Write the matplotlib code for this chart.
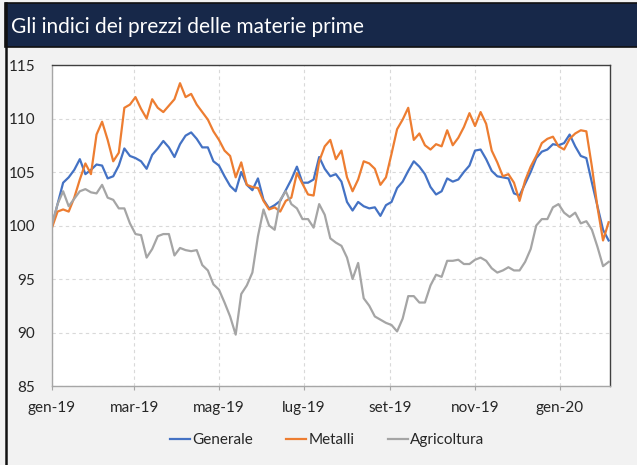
import matplotlib
matplotlib.use("Agg")
import matplotlib.pyplot as plt
import matplotlib.dates as mdates
from matplotlib.patches import Rectangle
from matplotlib.lines import Line2D
import numpy as np
import pandas as pd

plt.rcParams['font.family'] = ['Lato', 'DejaVu Sans']

title = "Gli indici dei prezzi delle materie prime"
series_names = ["Generale", "Metalli", "Agricoltura"]
start_date = "2019-01-01"
step_days = 4

generale = [100.0, 102.0, 104.0, 104.5, 105.2, 106.2, 104.8, 105.2, 105.7, 105.6,
            104.4, 104.6, 105.6, 107.2, 106.5, 106.3, 106.0, 105.3, 106.6, 107.2,
            107.9, 107.3, 106.4, 107.6, 108.4, 108.7, 108.1, 107.3, 107.3, 106.0,
            105.6, 104.6, 103.7, 103.2, 105.0, 103.8, 103.3, 104.4, 102.4, 101.6,
            101.9, 102.3, 103.3, 104.3, 105.5, 104.0, 104.0, 104.3, 106.4, 105.3,
            104.6, 104.8, 104.1, 102.2, 101.4, 102.2, 101.8, 101.6, 101.7, 100.9,
            101.9, 102.2, 103.5, 104.1, 105.1, 106.0, 105.5, 104.8, 103.6, 102.9,
            103.2, 104.4, 104.1, 104.3, 105.0, 105.6, 107.0, 107.1, 106.2, 105.1,
            104.6, 104.5, 104.4, 103.0, 102.8, 103.9, 105.0, 106.3, 106.9, 107.1,
            107.6, 107.5, 107.7, 108.5, 107.4, 106.5, 106.3, 104.0, 101.8, 99.6,
            98.6]
metalli = [99.8, 101.3, 101.5, 101.3, 102.6, 104.3, 105.8, 104.8, 108.5, 109.7,
           108.0, 106.0, 106.8, 111.0, 111.3, 112.0, 110.9, 110.0, 111.8, 111.0,
           110.6, 111.2, 111.8, 113.3, 112.0, 112.3, 111.3, 110.6, 109.9, 108.8,
           108.0, 107.0, 106.5, 104.5, 105.9, 103.8, 103.6, 103.5, 102.3, 101.5,
           101.7, 101.3, 102.3, 102.6, 104.9, 103.9, 102.9, 102.8, 106.0, 107.4,
           108.0, 106.2, 107.0, 104.5, 103.2, 104.3, 106.0, 105.8, 105.3, 103.8,
           104.5, 106.7, 109.0, 109.9, 111.0, 108.0, 108.6, 107.5, 107.1, 107.6,
           107.4, 108.9, 107.5, 108.2, 109.2, 110.5, 109.3, 110.6, 109.5, 107.0,
           105.9, 104.6, 104.8, 104.0, 102.3, 104.2, 105.5, 106.5, 107.7, 108.1,
           108.3, 107.4, 107.1, 108.1, 108.6, 108.9, 108.8, 105.5, 101.7, 98.6,
           100.3]
agricoltura = [100.1, 102.0, 103.2, 101.8, 102.5, 103.2, 103.4, 103.1, 103.0, 103.8,
               102.6, 102.4, 101.6, 101.6, 100.2, 99.2, 99.1, 97.0, 97.8, 99.0,
               99.2, 99.2, 97.2, 97.9, 97.7, 97.6, 97.7, 96.3, 95.8, 94.5,
               94.0, 92.8, 91.5, 89.8, 93.6, 94.4, 95.6, 99.0, 101.5, 100.0,
               99.6, 102.4, 103.2, 102.0, 101.6, 100.6, 100.6, 99.8, 102.0, 101.0,
               98.8, 98.4, 98.1, 97.0, 95.0, 96.5, 93.2, 92.5, 91.5, 91.2,
               90.9, 90.7, 90.1, 91.3, 93.4, 93.4, 92.8, 92.8, 94.4, 95.4,
               95.2, 96.7, 96.7, 96.8, 96.4, 96.4, 96.8, 97.0, 96.7, 96.0,
               95.6, 95.8, 96.1, 95.8, 95.8, 96.6, 97.8, 100.0, 100.6, 100.6,
               101.7, 102.0, 101.2, 100.8, 101.2, 100.2, 100.4, 99.6, 98.0, 96.2,
               96.6]

tick_dates = ["2019-01-01", "2019-03-01", "2019-05-01", "2019-07-01",
              "2019-09-01", "2019-11-01", "2020-01-01"]
tick_labels = ["gen-19", "mar-19", "mag-19", "lug-19", "set-19", "nov-19", "gen-20"]
y_ticks = [85, 90, 95, 100, 105, 110, 115]

dates = pd.date_range(start_date, periods=len(generale), freq=f"{step_days}D")

W, H = 637, 465
fig = plt.figure(figsize=(W / 100, H / 100), dpi=100)
fig.patch.set_facecolor("#f2f2f2")

# title bar
fig.patches.append(Rectangle((5 / W, 1 - 47 / H), 1, 44 / H, transform=fig.transFigure,
                             facecolor="#172849", edgecolor="#111111", linewidth=1.2, zorder=1))
fig.lines.append(Line2D([5.5 / W, 5.5 / W], [0, 1 - 3 / H], transform=fig.transFigure,
                        color="#111111", linewidth=1.8))
fig.text(11 / W, 1 - 27 / H, title, color="white", fontsize=15, fontweight="normal",
         va="center", ha="left")

ax = fig.add_axes([52 / W, 1 - 386 / H, (610 - 52) / W, (386 - 65) / H])
ax.set_facecolor("white")

colors = ["#4472C4", "#ED7D31", "#A5A5A5"]
for vals, name, c in zip([generale, metalli, agricoltura], series_names, colors):
    ax.plot(dates, vals, color=c, linewidth=1.6, label=name, solid_joinstyle="round")

ax.set_ylim(85, 115)
ax.set_yticks(y_ticks)
ax.set_xlim(pd.Timestamp(start_date), pd.Timestamp(start_date) + pd.Timedelta(days=401))
ax.set_xticks(pd.to_datetime(tick_dates))
ax.set_xticklabels(tick_labels)

ax.grid(True, color="#d9d9d9", linestyle=(0, (3, 3)), linewidth=0.8)
ax.set_axisbelow(True)
for s in ["top", "right"]:
    ax.spines[s].set_color("#404040")
    ax.spines[s].set_linewidth(1.0)
for s in ["left", "bottom"]:
    ax.spines[s].set_color("#a6a6a6")
    ax.spines[s].set_linewidth(1.0)

ax.tick_params(axis="y", length=0, pad=12, labelsize=11, labelcolor="#262626")
ax.tick_params(axis="x", length=3, color="#a6a6a6", pad=8, labelsize=11, labelcolor="#262626")

fig.legend(loc="center", bbox_to_anchor=(327 / W, 1 - 440 / H), ncol=3, frameon=False,
           fontsize=11, handlelength=1.3, handletextpad=0.15, columnspacing=2.2,
           labelcolor="#262626")

fig.savefig("out.png", dpi=100, facecolor=fig.get_facecolor())
